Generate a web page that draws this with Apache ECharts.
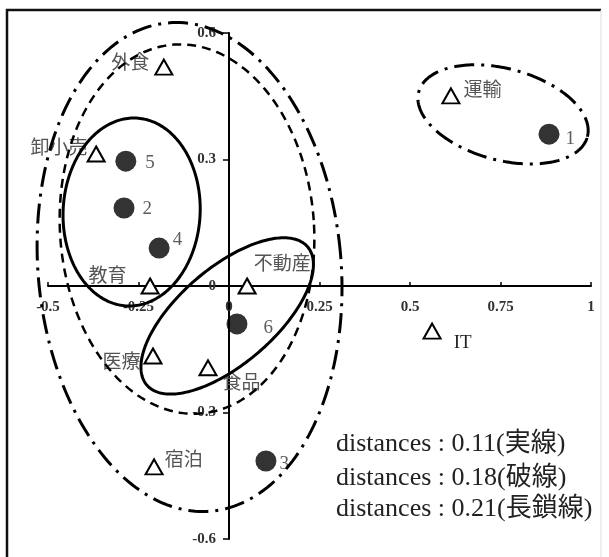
<!DOCTYPE html>
<html><head><meta charset="utf-8">
<script src="https://cdn.jsdelivr.net/npm/echarts@6/dist/echarts.min.js"></script>
<style>html,body{margin:0;padding:0;background:#fff}#c{width:609px;height:557px}</style>
</head><body><div id="c"></div>
<script>
// ---- data ----
const industryNames = ['外食', '卸小売', '教育', '不動産', '医療', '食品', '宿泊', 'IT', '運輸'];
const industryX = [-0.180, -0.367, -0.218, 0.050, -0.210, -0.058, -0.207, 0.561, 0.613];
const industryY = [0.519, 0.313, 0.000, 0.000, -0.166, -0.194, -0.429, -0.107, 0.451];
const groupNames = ['1', '2', '3', '4', '5', '6'];
const groupX = [0.884, -0.290, 0.102, -0.193, -0.285, 0.022];
const groupY = [0.360, 0.185, -0.415, 0.090, 0.296, -0.090];
const xRange = [-0.5, 1];
const xStep = 0.25;
const yRange = [-0.6, 0.6];
const yStep = 0.3;
// cluster ellipses: centre and two conjugate semi-axis vectors (data units)
const ellipseCenterX = [-0.269, -0.005, -0.116, -0.109, 0.757];
const ellipseCenterY = [0.1755, -0.071, 0.135, 0.045, 0.407];
const ellipseAxisA = [[0.189, -0.0085], [0.222, 0.164], [0.350, 0.021], [0.417, 0.031], [0.233, -0.053]];
const ellipseAxisB = [[0.0135, 0.2227], [-0.0865, 0.0863], [-0.0356, 0.4375], [-0.059, 0.579], [0.032, 0.105]];
const ellipseKind = [0, 0, 1, 2, 2]; // 0 solid, 1 dashed, 2 long dash-dot
const legendLines = ['distances : 0.11(実線)', 'distances : 0.18(破線)', 'distances : 0.21(長鎖線)'];

// ---- layout / styling ----
const G = { left: 48, top: 33, width: 543, height: 506 };
const SERIF = "'Liberation Serif', 'Noto Sans CJK JP', serif";
// move the axes so they cross at the origin
const yAxisShift = -G.width * (0 - xRange[0]) / (xRange[1] - xRange[0]);
const xAxisShift = -G.height * (0 - yRange[0]) / (yRange[1] - yRange[0]);

const industryLabelPlace = {
  '外食': ['left', [0, -3]],
  '卸小売': ['left', [6, -5]],
  '教育': ['left', [-9, -9]],
  '不動産': ['right', [-8, -21]],
  '医療': ['left', [2, 7]],
  '食品': ['right', [0, 16]],
  '宿泊': ['right', [-4, -6]],
  'IT': ['right', [7, 12]],
  '運輸': ['right', [-2, -5]]
};
const groupLabelPlace = {
  '1': [1, 5], '2': [3, 1], '3': [-2, 3], '4': [-2, -8], '5': [4, 2], '6': [11, 4]
};
const kindStyles = [
  { lineWidth: 3, lineDash: null },
  { lineWidth: 2.5, lineDash: [9, 6] },
  { lineWidth: 3, lineDash: [20, 7, 3, 7] }
];

const industryData = industryNames.map((n, i) => ({
  name: n, value: [industryX[i], industryY[i]],
  label: {
    show: true, formatter: n, position: industryLabelPlace[n][0], offset: industryLabelPlace[n][1],
    fontFamily: SERIF, fontSize: n === 'IT' ? 19 : 19, color: n === 'IT' ? '#222' : '#555'
  }
}));
const groupData = groupNames.map((n, i) => ({
  name: n, value: [groupX[i], groupY[i]],
  label: {
    show: true, formatter: n, position: 'right', offset: groupLabelPlace[n],
    fontFamily: SERIF, fontSize: 19, color: '#333'
  }
}));
const ellipseData = ellipseCenterX.map((cx, i) => [cx, ellipseCenterY[i], ellipseAxisA[i][0], ellipseAxisA[i][1], ellipseAxisB[i][0], ellipseAxisB[i][1], ellipseKind[i]]);

const fmt = v => String(Math.round(v * 100) / 100);
const chart = echarts.init(document.getElementById('c'), null, { renderer: 'canvas' });
chart.setOption({
  animation: false,
  backgroundColor: '#fff',
  grid: Object.assign({ containLabel: false }, G),
  xAxis: {
    type: 'value', min: xRange[0], max: xRange[1], interval: xStep,
    position: 'bottom', offset: xAxisShift,
    axisLine: { onZero: false, lineStyle: { color: '#000', width: 2 } },
    axisTick: { show: true, inside: true, length: 4, lineStyle: { color: '#000', width: 1.5 } },
    axisLabel: { margin: 14, fontFamily: SERIF, fontSize: 15, fontWeight: 'bold', color: '#333',
      formatter: fmt, showMinLabel: true, showMaxLabel: true, hideOverlap: false },
    splitLine: { show: false }
  },
  yAxis: {
    type: 'value', min: yRange[0], max: yRange[1], interval: yStep,
    position: 'left', offset: yAxisShift,
    axisLine: { onZero: false, lineStyle: { color: '#000', width: 2 } },
    axisTick: { show: true, inside: false, length: 6, lineStyle: { color: '#000', width: 1.5 } },
    axisLabel: { margin: 13, fontFamily: SERIF, fontSize: 15, fontWeight: 'bold', color: '#333',
      formatter: fmt, showMinLabel: true, showMaxLabel: true, hideOverlap: false },
    splitLine: { show: false }
  },
  graphic: [
    { type: 'polyline', shape: { points: [[7, 600], [7, 10], [601, 10]] }, style: { stroke: '#111', lineWidth: 2.5, fill: null }, z: 100 },
    { type: 'line', shape: { x1: 601, y1: 10, x2: 601, y2: 600 }, style: { stroke: '#ddd', lineWidth: 1 }, z: 100 },
    ...legendLines.map((t, i) => ({
      type: 'text', left: 336, top: [431, 465, 496][i], z: 100,
      style: { text: t, font: "26px 'Liberation Serif', 'Noto Sans CJK JP', serif", fill: '#222' }
    }))
  ],
  series: [
    {
      type: 'scatter', name: 'industry', data: industryData, symbol: 'triangle', symbolSize: [17, 15],
      itemStyle: { color: '#fff', borderColor: '#000', borderWidth: 2, opacity: 1 }, z: 3
    },
    {
      type: 'scatter', name: 'group', data: groupData, symbol: 'circle', symbolSize: 21,
      itemStyle: { color: '#000' }, z: 3
    },
    {
      type: 'custom', name: 'clusters', data: ellipseData, encode: { x: 0, y: 1 }, clip: false, z: 4,
      silent: true,
      renderItem: function (params, api) {
        const cx = api.value(0), cy = api.value(1), ax = api.value(2), ay = api.value(3), bx = api.value(4), by = api.value(5);
        const st = kindStyles[api.value(6)];
        const pts = [];
        const N = 240;
        for (let i = 0; i <= N; i++) {
          const t = i / N * 2 * Math.PI;
          pts.push(api.coord([cx + Math.cos(t) * ax + Math.sin(t) * bx, cy + Math.cos(t) * ay + Math.sin(t) * by]));
        }
        return { type: 'polyline', shape: { points: pts }, style: { stroke: '#000', fill: null, lineWidth: st.lineWidth, lineDash: st.lineDash } };
      }
    }
  ]
});
</script>
</body></html>
